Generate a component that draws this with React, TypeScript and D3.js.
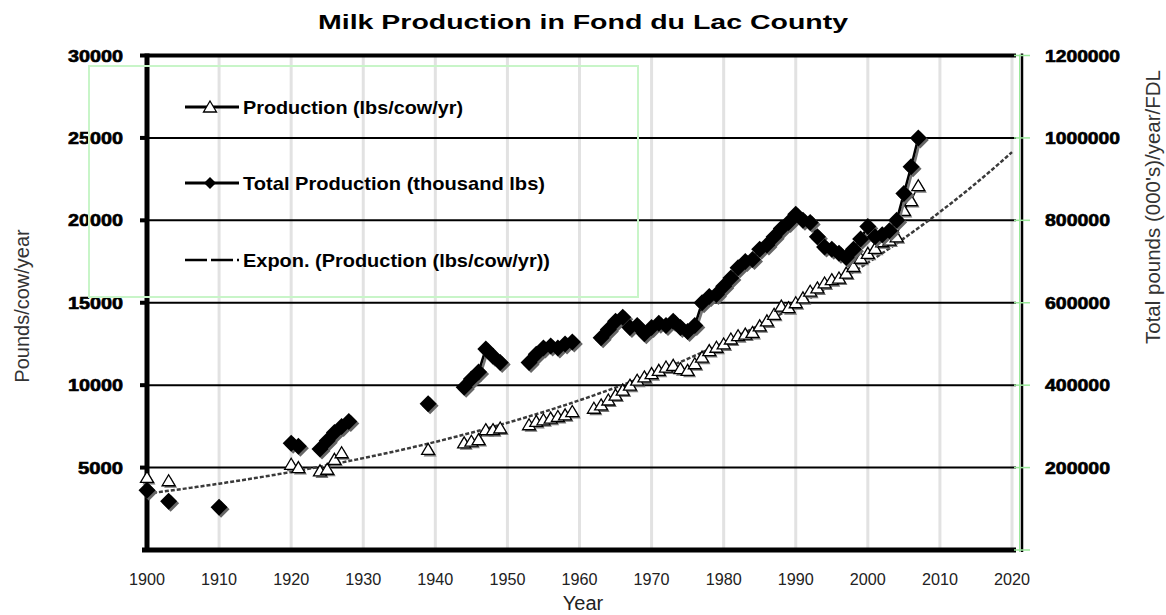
import * as d3 from "d3";

// Production (lbs/cow/yr), left axis
const prodYears = [
  1900, 1903, 1920, 1921, 1924, 1925, 1926, 1927, 1939, 1944, 1945, 1946, 1947, 1948, 1949,
  1953, 1954, 1955, 1956, 1957, 1958, 1959, 1962, 1963, 1964, 1965, 1966, 1967, 1968, 1969,
  1970, 1971, 1972, 1973, 1974, 1975, 1976, 1977, 1978, 1979, 1980, 1981, 1982, 1983, 1984,
  1985, 1986, 1987, 1988, 1989, 1990, 1991, 1992, 1993, 1994, 1995, 1996, 1997, 1998, 1999,
  2000, 2001, 2002, 2003, 2004, 2005, 2006, 2007,
];
const prodValues = [
  4400, 4200, 5200, 5000, 4800, 4900, 5500, 5900, 6100, 6500, 6600, 6700, 7300, 7300, 7400,
  7600, 7800, 7900, 8000, 8100, 8200, 8400, 8600, 8800, 9100, 9400, 9700, 10000, 10300, 10500,
  10700, 10900, 11100, 11200, 11000, 10900, 11300, 11700, 12100, 12300, 12500, 12800, 13000, 13100, 13200,
  13600, 13900, 14300, 14800, 14700, 15000, 15300, 15700, 15900, 16200, 16400, 16500, 16800, 17200, 17700,
  18000, 18300, 18700, 18800, 19000, 20600, 21200, 22100,
];

// Total Production (thousand lbs), right axis
const totalYears = [
  1900, 1903, 1910, 1920, 1921, 1924, 1925, 1926, 1927, 1928, 1939, 1944, 1945, 1946, 1947,
  1948, 1949, 1953, 1954, 1955, 1956, 1957, 1958, 1959, 1963, 1964, 1965, 1966, 1967, 1968,
  1969, 1970, 1971, 1972, 1973, 1974, 1975, 1976, 1977, 1978, 1979, 1980, 1981, 1982, 1983,
  1984, 1985, 1986, 1987, 1988, 1989, 1990, 1991, 1992, 1993, 1994, 1995, 1996, 1997, 1998,
  1999, 2000, 2001, 2002, 2003, 2004, 2005, 2006, 2007,
];
const totalValues = [
  145000, 118000, 104000, 259000, 252000, 245000, 265000, 285000, 300000, 312000, 355000, 395000, 415000, 432000, 488000,
  470000, 455000, 455000, 475000, 490000, 495000, 490000, 500000, 505000, 515000, 535000, 555000, 565000, 540000, 545000,
  525000, 540000, 550000, 545000, 555000, 540000, 530000, 545000, 600000, 615000, 620000, 640000, 660000, 685000, 700000,
  705000, 730000, 740000, 760000, 780000, 795000, 815000, 800000, 795000, 760000, 735000, 730000, 720000, 710000, 730000,
  755000, 785000, 760000, 765000, 775000, 800000, 865000, 930000, 1000000,
];

const leftTicks = [5000, 10000, 15000, 20000, 25000, 30000];
const rightTicks = [200000, 400000, 600000, 800000, 1000000, 1200000];
const yearTicks = [1900, 1910, 1920, 1930, 1940, 1950, 1960, 1970, 1980, 1990, 2000, 2010, 2020];

const legendLabels = [
  "Production (lbs/cow/yr)",
  "Total Production  (thousand lbs)",
  "Expon. (Production (lbs/cow/yr))",
];

type P = [number, number];

// split into runs of consecutive years (Excel leaves gaps for missing years)
function runs(years: number[], vals: number[]): P[][] {
  const out: P[][] = [];
  let cur: P[] = [];
  years.forEach((yr, i) => {
    if (i > 0 && yr - years[i - 1] !== 1) {
      out.push(cur);
      cur = [];
    }
    cur.push([yr, vals[i]]);
  });
  out.push(cur);
  return out.filter((r) => r.length > 1);
}

export default function App() {
  const W = 1166;
  const H = 615;
  const left = 147;
  const right = 1022;
  const top = 55.5;
  const bottom = 550;

  const x = d3.scaleLinear().domain([1900, 2020]).range([left, 1012]);
  const yL = d3.scaleLinear().domain([0, 30000]).range([bottom, top]);
  const yR = d3.scaleLinear().domain([0, 1200000]).range([bottom, top]);

  // Excel-style exponential trendline: least squares on ln(y)
  const lx = prodYears.map((d) => d - 1900);
  const ly = prodValues.map((v) => Math.log(v));
  const mx = d3.mean(lx)!;
  const my = d3.mean(ly)!;
  const b =
    d3.sum(lx, (v, i) => (v - mx) * (ly[i] - my)) / d3.sum(lx, (v) => (v - mx) * (v - mx));
  const a = my - b * mx;
  const trendYears = d3.range(1900, 2020.5, 1);
  const trendLine = d3
    .line<number>()
    .x((d) => x(d))
    .y((d) => yL(Math.exp(a + b * (d - 1900))));

  const prodLine = d3
    .line<P>()
    .x((d) => x(d[0]))
    .y((d) => yL(d[1]));
  const totLine = d3
    .line<P>()
    .x((d) => x(d[0]))
    .y((d) => yR(d[1]));

  const diamond = (cx: number, cy: number, r = 8.5) =>
    `M${cx},${cy - r}L${cx + r},${cy}L${cx},${cy + r}L${cx - r},${cy}Z`;
  const tri = (cx: number, cy: number) =>
    `M${cx},${cy - 6}L${cx + 6.5},${cy + 5}L${cx - 6.5},${cy + 5}Z`;

  const font = "'Liberation Sans', Arial, sans-serif";
  const lgY = [107, 183, 260];

  return (
    <svg
      width={W}
      height={H}
      style={{ position: "absolute", left: 0, top: 0, background: "#fff" }}
      fontFamily={font}
    >
      <rect width={W} height={H} fill="#fff" />
      <text
        x={583}
        y={29}
        textAnchor="middle"
        fontSize={21}
        fontWeight="bold"
        fill="#000"
        textLength={530}
        lengthAdjust="spacingAndGlyphs"
      >
        Milk Production in Fond du Lac County
      </text>

      {/* vertical gridlines */}
      {yearTicks.slice(1).map((t) => (
        <line key={t} x1={x(t)} x2={x(t)} y1={top} y2={bottom} stroke="#e2e2e2" strokeWidth={3} />
      ))}
      {/* horizontal gridlines */}
      {leftTicks.map((t) => (
        <line key={t} x1={left} x2={1016} y1={yL(t)} y2={yL(t)} stroke="#000" strokeWidth={2} />
      ))}

      {/* frame */}
      <line x1={left} x2={1016} y1={top} y2={top} stroke="#000" strokeWidth={4} />
      <line x1={142} x2={1016} y1={bottom} y2={bottom} stroke="#000" strokeWidth={5} />
      <line x1={left} x2={left} y1={top - 2} y2={bottom + 2} stroke="#000" strokeWidth={5} />
      <line x1={right} x2={right} y1={top - 2} y2={bottom + 2} stroke="#000" strokeWidth={2.5} />
      <line x1={right - 2.5} x2={right - 2.5} y1={top - 1} y2={bottom + 2} stroke="#9be89b" strokeWidth={1} />
      {leftTicks.map((t) => (
        <rect key={t} x={140} y={yL(t) - 2} width={7} height={4} fill="#000" />
      ))}
      {rightTicks.map((t) => (
        <line key={t} x1={1014} x2={1030} y1={yR(t)} y2={yR(t)} stroke="#9be89b" strokeWidth={1.5} />
      ))}
      <line x1={1014} x2={1030} y1={bottom} y2={bottom} stroke="#9be89b" strokeWidth={1.5} />

      {/* left tick labels */}
      {leftTicks.map((t) => (
        <text
          key={t}
          x={123}
          y={yL(t) + 6}
          textAnchor="end"
          fontSize={16}
          fontWeight="bold"
          stroke="#000"
          strokeWidth={0.6}
          textLength={t >= 10000 ? 55 : 45}
          lengthAdjust="spacingAndGlyphs"
        >
          {t}
        </text>
      ))}
      {/* right tick labels */}
      {rightTicks.map((t) => (
        <text
          key={t}
          x={1045}
          y={yR(t) + 6}
          fontSize={16}
          fontWeight="bold"
          stroke="#000"
          strokeWidth={0.6}
          textLength={t >= 1000000 ? 75 : 65}
          lengthAdjust="spacingAndGlyphs"
        >
          {t}
        </text>
      ))}
      {/* x tick labels */}
      {yearTicks.map((t) => (
        <text
          key={t}
          x={x(t)}
          y={585}
          textAnchor="middle"
          fontSize={17}
          fill="#222"
          textLength={36}
          lengthAdjust="spacingAndGlyphs"
        >
          {t}
        </text>
      ))}
      <text x={583} y={610} textAnchor="middle" fontSize={20} fill="#222">
        Year
      </text>
      <text
        transform="translate(29,306) rotate(-90)"
        textAnchor="middle"
        fontSize={20}
        fill="#333"
      >
        Pounds/cow/year
      </text>
      <text
        transform="translate(1160,207) rotate(-90)"
        textAnchor="middle"
        fontSize={20.5}
        fill="#333"
      >
        Total pounds (000's)/year/FDL
      </text>

      {/* trendline */}
      <path d={trendLine(trendYears)!} fill="none" stroke="#3a3a3a" strokeWidth={2.5} strokeDasharray="4,2" />

      {/* production triangles */}
      {runs(prodYears, prodValues).map((r, i) => (
        <path key={i} d={prodLine(r)!} fill="none" stroke="#000" strokeWidth={1.5} />
      ))}
      {prodYears.map((yr, i) => (
        <path key={"ts" + yr} d={tri(x(yr) + 2, yL(prodValues[i]) + 2)} fill="#777" />
      ))}
      {prodYears.map((yr, i) => (
        <path
          key={"t" + yr}
          d={tri(x(yr), yL(prodValues[i]))}
          fill="#fff"
          stroke="#000"
          strokeWidth={1.3}
        />
      ))}

      {/* total production diamonds */}
      {runs(totalYears, totalValues).map((r, i) => (
        <g key={i}>
          <path d={totLine(r)!} transform="translate(2,2)" fill="none" stroke="#777" strokeWidth={2.5} />
          <path d={totLine(r)!} fill="none" stroke="#000" strokeWidth={2.5} />
        </g>
      ))}
      {totalYears.map((yr, i) => (
        <path key={"ds" + yr} d={diamond(x(yr) + 2, yR(totalValues[i]) + 2)} fill="#666" />
      ))}
      {totalYears.map((yr, i) => (
        <path key={"d" + yr} d={diamond(x(yr), yR(totalValues[i]))} fill="#000" />
      ))}

      {/* legend */}
      <rect x={89} y={66} width={549} height={231} fill="none" stroke="#c8f5c8" strokeWidth={2} />
      <line x1={185} x2={239} y1={lgY[0]} y2={lgY[0]} stroke="#000" strokeWidth={3} />
      <path d={tri(210, lgY[0])} fill="#fff" stroke="#000" strokeWidth={1.3} />
      <line x1={185} x2={239} y1={lgY[1]} y2={lgY[1]} stroke="#000" strokeWidth={3} />
      <path d={diamond(210, lgY[1], 6)} fill="#000" />
      <line x1={185} x2={239} y1={lgY[2]} y2={lgY[2]} stroke="#000" strokeWidth={2.5} strokeDasharray="22,4" />
      {legendLabels.map((l, i) => (
        <text
          key={l}
          x={243}
          y={lgY[i] + 7}
          fontSize={19}
          fontWeight="bold"
          textLength={[220, 302, 307][i]}
          lengthAdjust="spacingAndGlyphs"
        >
          {l}
        </text>
      ))}
    </svg>
  );
}
